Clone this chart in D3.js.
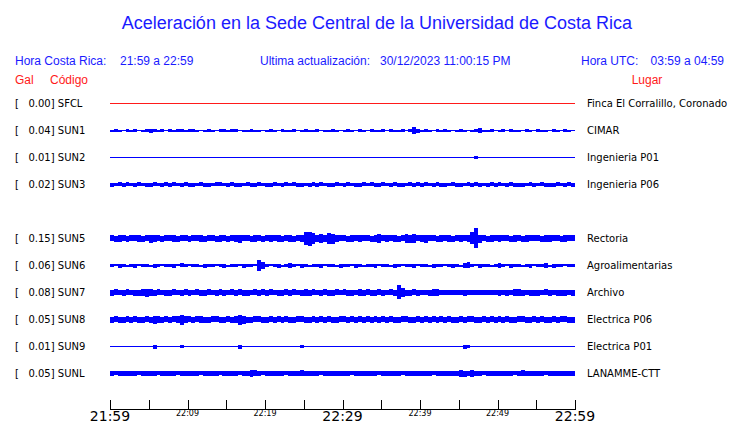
<!DOCTYPE html>
<html><head><meta charset="utf-8">
<script src="https://cdn.jsdelivr.net/npm/d3@7"></script>
<style>body{margin:0;background:#fff}svg{display:block}</style>
</head><body><svg id="c" width="740" height="423"></svg>
<script>
// ---- data ----
const codes = ["SFCL","SUN1","SUN2","SUN3","SUN5","SUN6","SUN7","SUN8","SUN9","SUNL"];
const slots = ["SFCL","SUN1","SUN2","SUN3","gap","SUN5","SUN6","SUN7","SUN8","SUN9","SUNL"];
const peaks = [0.00,0.04,0.01,0.02,0.15,0.06,0.08,0.05,0.01,0.05];
const places = ["Finca El Corralillo, Coronado","CIMAR","Ingenieria P01","Ingenieria P06","Rectoria","Agroalimentarias","Archivo","Electrica P06","Electrica P01","LANAMME-CTT"];
const startTime = "2023-12-30T21:59:00";
const endTime = "2023-12-30T22:59:00";
const binSeconds = 30;
const tickMinutes = 5;
const bigLabels = ["21:59","22:29","22:59"];
const smallLabels = ["22:09","22:19","22:39","22:49"];
// envelope half-amplitude per 30 s bin (mGal)
const SFCL = [0,0,0,0,0,0,0,0,0,0,0,0,0,0,0,0,0,0,0,0, 0,0,0,0,0,0,0,0,0,0,0,0,0,0,0,0,0,0,0,0, 0,0,0,0,0,0,0,0,0,0,0,0,0,0,0,0,0,0,0,0, 0,0,0,0,0,0,0,0,0,0,0,0,0,0,0,0,0,0,0,0, 0,0,0,0,0,0,0,0,0,0,0,0,0,0,0,0,0,0,0,0, 0,0,0,0,0,0,0,0,0,0,0,0,0,0,0,0,0,0,0,0];
const SUN1 = [4,18,5,3,16,4,15,3,5,18,20,16,4,15,3,16,5,18,15,4, 16,18,4,3,5,15,4,3,16,18,4,16,15,3,4,5,16,4,5,3, 4,15,5,3,16,4,5,15,3,4,16,5,4,15,3,5,4,16,5,3, 4,16,5,3,15,4,3,16,5,4,18,3,15,4,5,16,3,15,45,22, 4,15,5,3,16,4,15,5,3,4,16,5,3,4,15,28,4,5,16,3, 5,15,3,16,4,5,3,15,4,3,16,5,4,3,15,5,3,16,4,3];
const SUN2 = [0,0,2,0,0,0,0,2,0,0,0,0,0,0,2,0,0,0,0,0, 0,2,0,0,0,0,0,0,2,0,0,0,0,0,0,0,2,0,0,0, 0,0,0,2,0,0,0,0,0,0,2,0,0,0,0,0,0,0,2,0, 0,0,0,0,0,2,0,0,0,0,0,0,2,0,0,0,0,0,0,0, 0,0,2,0,0,0,0,0,0,0,0,0,0,0,12,0,0,0,2,0, 0,0,0,0,2,0,0,0,0,0,0,0,0,2,0,0,0,0,0,0];
const SUN3 = [22,18,25,20,24,16,22,26,19,23,21,25,18,22,24,20,26,19,22,24, 20,23,18,25,21,22,19,24,26,18,22,25,20,23,17,24,21,22,26,19, 23,20,25,18,22,24,19,26,21,23,18,22,25,20,24,19,23,21,26,18, 22,25,19,23,21,26,18,24,22,20,25,19,23,27,21,22,18,24,20,25, 21,24,19,22,26,20,23,18,25,21,22,19,24,20,26,23,18,22,25,20, 24,19,22,25,20,23,21,18,26,22,19,24,21,23,20,25,18,22,24,21];
const SUN5 = [40,38,44,41,37,43,40,45,39,42,55,44,40,38,43,41,46,39,42,40, 38,43,41,45,39,42,40,37,44,41,39,43,46,55,42,40,38,44,41,39, 43,50,40,44,38,42,45,39,41,44,95,100,80,48,60,45,75,70,44,40, 42,39,50,41,44,40,43,38,45,60,42,50,40,44,39,43,60,55,60,42, 45,55,40,43,38,44,41,46,39,42,45,40,44,90,150,55,42,39,44,41, 48,40,43,38,44,41,39,45,42,40,43,38,50,44,40,42,39,45,41,43];
const SUN6 = [18,8,20,15,6,18,20,8,16,18,6,20,15,8,18,16,20,8,25,15, 8,18,16,6,20,15,18,8,16,20,6,18,15,8,20,16,18,10,75,45, 16,8,18,20,6,15,35,18,8,20,16,6,18,15,20,8,16,18,6,20, 15,18,8,20,16,6,18,15,20,8,16,18,6,20,15,8,18,16,20,8, 18,15,6,20,16,18,8,15,20,16,6,30,40,18,8,20,15,16,6,18, 30,16,8,20,15,18,6,16,20,8,18,15,30,6,20,16,18,8,15,18];
const SUN7 = [36,40,34,38,42,35,39,37,50,55,48,38,41,35,39,36,40,34,38,41, 37,35,40,38,36,42,34,39,41,37,35,40,38,43,36,39,35,41,37,40, 38,42,35,39,37,40,36,41,34,38,45,37,40,35,39,42,36,38,41,35, 40,37,39,35,50,38,41,36,39,42,37,35,40,38,105,65,39,36,41,37, 33,30,36,50,45,31,34,30,35,29,33,36,30,34,31,35,29,33,30,34, 36,33,38,35,48,45,37,34,39,36,38,35,40,37,34,38,36,39,35,37];
const SUN8 = [38,40,37,39,41,38,40,37,39,42,38,55,50,39,40,38,41,44,70,48, 40,38,41,50,39,37,40,42,38,39,41,37,45,70,52,39,38,41,40,37, 39,41,38,40,37,42,39,38,40,41,37,39,42,38,40,37,41,39,38,40, 41,38,40,39,42,37,40,38,41,39,40,37,42,39,38,41,40,38,39,41, 38,40,37,41,39,42,38,40,39,37,41,38,40,42,39,38,41,37,40,39, 40,38,41,39,37,40,42,38,39,41,38,40,37,39,41,38,40,42,39,38];
const SUN9 = [0,2,0,0,2,0,0,0,2,0,0,20,0,0,2,0,0,0,15,0, 0,0,2,0,0,0,0,2,0,0,0,0,0,20,0,0,2,0,0,0, 0,2,0,0,0,0,2,0,0,15,0,0,0,2,0,0,0,0,2,0, 0,0,0,2,0,0,0,0,2,0,0,0,0,0,2,0,0,0,0,2, 0,0,2,0,0,0,0,2,0,0,0,20,15,0,0,2,0,0,0,0, 2,0,0,0,0,2,0,0,0,0,2,0,0,0,0,0,2,0,0,0];
const SUNL = [30,27,33,29,35,28,31,26,34,30,28,32,27,35,30,29,33,26,31,34, 28,32,30,27,34,29,31,35,27,30,33,28,32,26,34,29,45,40,30,27, 33,29,31,28,35,27,30,34,29,42,31,28,33,30,27,34,29,32,28,31, 30,34,27,32,29,35,28,31,30,26,33,29,34,28,31,27,35,30,29,32, 28,31,34,27,30,33,29,35,28,32,50,38,30,45,29,33,27,31,34,28, 31,28,33,30,27,34,40,29,32,28,35,30,27,33,29,31,34,28,30,32];
const envelopes = [SFCL,SUN1,SUN2,SUN3,SUN5,SUN6,SUN7,SUN8,SUN9,SUNL];

// ---- drawing ----
const svg = d3.select("#c");
const blue = "#1a1aff", red = "#ff1a1a";
const t0 = new Date(startTime), t1 = new Date(endTime);
const x = d3.scaleTime().domain([t0, t1]).range([110, 575]);
const y = d3.scalePoint().domain(slots).range([103, 373]);
const amp = d3.scaleLinear().domain([0, 150]).range([0, 9.5]);
const fmt = d3.format(".2f");

svg.append("text").attr("x", 377).attr("y", 29).attr("text-anchor","middle")
  .style("font-family","'Liberation Sans', Arial, sans-serif").style("font-size","18px")
  .attr("fill", blue).text("Aceleración en la Sede Central de la Universidad de Costa Rica");

const hdr = (tx, xx, yy, col, anchor) => svg.append("text").attr("x", xx).attr("y", yy)
  .attr("text-anchor", anchor || "start")
  .style("font-family","'Liberation Sans', Arial, sans-serif").style("font-size","12px")
  .attr("fill", col).text(tx);
hdr("Hora Costa Rica:", 15, 65, blue);
hdr("21:59 a 22:59", 120, 65, blue);
hdr("Ultima actualización:", 260, 65, blue);
hdr("30/12/2023 11:00:15 PM", 380, 65, blue);
hdr("Hora UTC:", 581, 65, blue);
hdr("03:59 a 04:59", 724, 65, blue, "end");
hdr("Gal", 15, 84, red);
hdr("Código", 50, 84, red);
hdr("Lugar", 647, 84, red, "middle");

const rows = svg.append("g").attr("shape-rendering","crispEdges");
codes.forEach((code, k) => {
  const cy = y(code);
  const col = code === "SFCL" ? red : "#0000ff";
  const g = rows.append("g");
  g.append("rect").attr("x", x(t0)).attr("y", cy).attr("width", x(t1) - x(t0)).attr("height", 1).attr("fill", col);
  g.selectAll("rect.env").data(envelopes[k]).join("rect").attr("class","env")
    .attr("x", (d,i) => x(new Date(+t0 + i*binSeconds*1000)))
    .attr("width", (d,i) => x(new Date(+t0 + (i+1)*binSeconds*1000)) - x(new Date(+t0 + i*binSeconds*1000)))
    .attr("y", d => cy - Math.round(amp(d)))
    .attr("height", d => Math.round(2*amp(d)) + 1)
    .attr("fill", col);
  svg.append("text").attr("x", 15).attr("y", cy + 4).style("white-space","pre")
    .style("font-family","'DejaVu Sans', sans-serif").style("font-size","10px").attr("fill","#000")
    .text("[   " + fmt(peaks[k]) + "] " + code);
  svg.append("text").attr("x", 587).attr("y", cy + 4)
    .style("font-family","'DejaVu Sans', sans-serif").style("font-size","10px").attr("fill","#000")
    .text(places[k]);
});

// axis
const ay = 409;
const ax = svg.append("g").attr("shape-rendering","crispEdges");
ax.append("line").attr("x1", x(t0)).attr("x2", x(t1)).attr("y1", ay+0.5).attr("y2", ay+0.5).attr("stroke","#000");
const nTicks = Math.round((t1 - t0) / (tickMinutes * 60000));
const tickDates = d3.range(0, nTicks + 1).map(i => new Date(+t0 + i * tickMinutes * 60000));
ax.selectAll("line.tk").data(tickDates).join("line").attr("class","tk")
  .attr("x1", d => Math.round(x(d))+0.5).attr("x2", d => Math.round(x(d))+0.5)
  .attr("y1", ay - 9).attr("y2", ay + 1).attr("stroke","#000");
const tf = d3.timeFormat("%H:%M");
svg.selectAll("text.big").data(tickDates.filter(d => bigLabels.includes(tf(d)))).join("text").attr("class","big")
  .attr("x", d => x(d)).attr("y", 421).attr("text-anchor","middle")
  .style("font-family","'DejaVu Sans', sans-serif").style("font-size","14px").text(d => tf(d));
svg.selectAll("text.small").data(tickDates.filter(d => smallLabels.includes(tf(d)))).join("text").attr("class","small")
  .attr("x", d => x(d)).attr("y", 416).attr("text-anchor","middle")
  .style("font-family","'DejaVu Sans', sans-serif").style("font-size","8px").text(d => tf(d));
</script></body></html>
